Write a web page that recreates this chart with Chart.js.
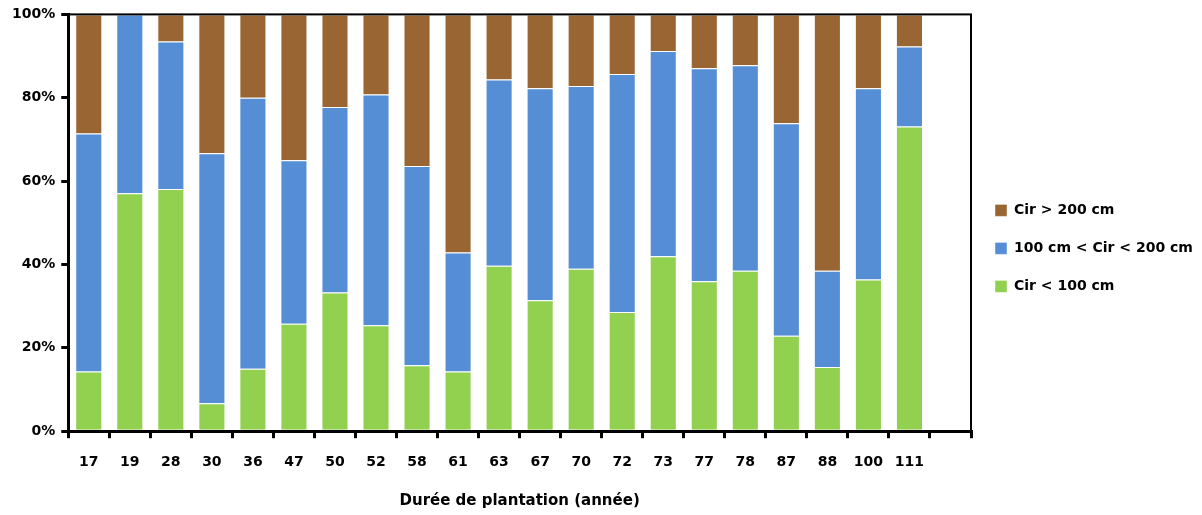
<!DOCTYPE html>
<html>
<head>
<meta charset="utf-8">
<script src="https://cdn.jsdelivr.net/npm/chart.js@4"></script>
<style>
  html, body { margin: 0; padding: 0; background: #fff; }
  #wrap { width: 1202px; height: 515px; }
</style>
</head>
<body>
<div id="wrap"><canvas id="c" width="1202" height="515"></canvas></div>
<script>
// Durée de plantation (années) — last slot is empty, as in the source sheet
const years = ['17', '19', '28', '30', '36', '47', '50', '52', '58', '61', '63', '67', '70', '72', '73', '77', '78', '87', '88', '100', '111', ''];

// share of trees per circumference class (%)
const small  = [14.3, 57.1, 58.1, 6.7, 15.0, 25.8, 33.3, 25.4, 15.8, 14.3, 39.7, 31.4, 39.0, 28.6, 42.0, 36.0, 38.5, 22.9, 15.4, 36.4, 73.1, null];
const medium = [57.1, 42.9, 35.4, 60.0, 65.0, 39.2, 44.5, 55.4, 47.8, 28.6, 44.7, 50.9, 43.8, 57.1, 49.2, 51.1, 49.3, 51.0, 23.1, 45.9, 19.2, null];
const large  = [28.6, 0.0, 6.5, 33.3, 20.0, 35.0, 22.2, 19.2, 36.4, 57.1, 15.6, 17.7, 17.2, 14.3, 8.8, 12.9, 12.2, 26.1, 61.5, 17.7, 7.7, null];

const FONT = "'DejaVu Sans', 'Lato', sans-serif";

// box around the plot area (Excel-style frame)
const frame = {
  id: 'frame',
  afterDatasetsDraw(chart) {
    const { ctx, chartArea: a } = chart;
    ctx.save();
    ctx.strokeStyle = '#000';
    ctx.lineWidth = 2;
    ctx.strokeRect(a.left, a.top, a.right - a.left, a.bottom - a.top);
    ctx.restore();
  }
};

const bar = (label, data, color) => ({
  label, data,
  backgroundColor: color,
  borderColor: 'rgba(255,255,255,0.45)',
  borderWidth: 1,
  barPercentage: 0.66,
  categoryPercentage: 1,
});

new Chart(document.getElementById('c'), {
  type: 'bar',
  data: {
    labels: years,
    datasets: [
      bar('Cir < 100 cm', small, '#92D050'),
      bar('100 cm < Cir < 200 cm', medium, '#558ED5'),
      bar('Cir > 200 cm', large, '#996633'),
    ]
  },
  options: {
    responsive: false,
    animation: false,
    layout: { padding: { left: 6, top: 4, right: 0, bottom: 5 } },
    plugins: {
      legend: {
        position: 'right',
        align: 'start',
        reverse: true,
        maxWidth: 231,
        // empty title only used as a spacer to push the entries down
        title: { display: true, text: '', padding: { top: 161, bottom: 0 } },
        labels: {
          boxWidth: 12, boxHeight: 12, padding: 24,
          color: '#000',
          font: { family: FONT, size: 14, weight: 'bold' }
        }
      },
      tooltip: { enabled: false }
    },
    scales: {
      x: {
        stacked: true,
        grid: { drawOnChartArea: false, color: '#000', tickLength: 7, lineWidth: 3 },
        border: { color: '#000', width: 3 },
        ticks: { color: '#000', padding: 16, maxRotation: 0, autoSkip: false,
                 font: { family: FONT, size: 14, weight: 'bold' } },
        title: {
          display: true, text: 'Durée de plantation (année)', color: '#000',
          padding: { top: 5, bottom: 0 },
          font: { family: FONT, size: 15, weight: 'bold' }
        }
      },
      y: {
        stacked: true,
        min: 0, max: 100,
        grid: { drawOnChartArea: false, color: '#000', tickLength: 7, lineWidth: 3 },
        border: { color: '#000', width: 3 },
        ticks: { stepSize: 20, color: '#000', padding: 6,
                 font: { family: FONT, size: 14, weight: 'bold' },
                 callback: v => v + '%' }
      }
    }
  },
  plugins: [frame]
});
</script>
</body>
</html>
